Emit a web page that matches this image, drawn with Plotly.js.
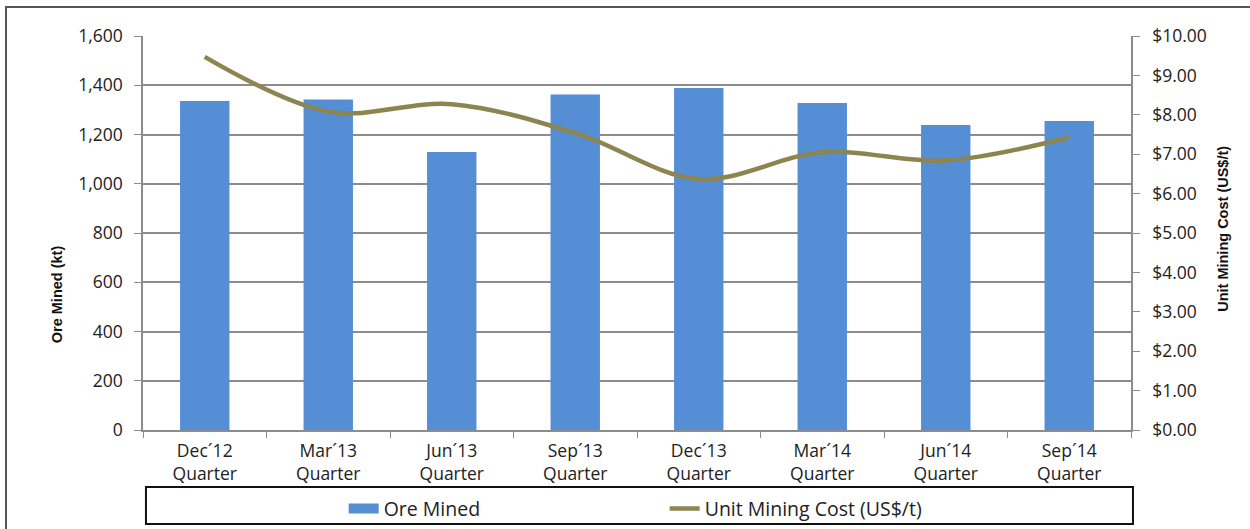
<!DOCTYPE html>
<html>
<head>
<meta charset="utf-8">
<script src="https://cdn.plot.ly/plotly-3.0.1.min.js"></script>
<style>
  html, body { margin: 0; padding: 0; background: #fff; }
  #frame { position: absolute; left: 5px; top: 6px; width: 1300px; height: 600px;
           border-left: 2px solid #555; border-top: 2px solid #555; }
  #chart { position: absolute; left: 0; top: 0; width: 1250px; height: 529px; }
</style>
</head>
<body>
<div id="frame"></div>
<div id="chart"></div>
<script>
const quarters = ["Dec´12<br>Quarter", "Mar´13<br>Quarter", "Jun´13<br>Quarter", "Sep´13<br>Quarter",
                  "Dec´13<br>Quarter", "Mar´14<br>Quarter", "Jun´14<br>Quarter", "Sep´14<br>Quarter"];
const oreMined = [1336, 1342, 1129, 1362, 1389, 1328, 1239, 1255];
const unitCost = [9.47, 8.08, 8.27, 7.54, 6.37, 7.05, 6.84, 7.43];

const barColor = "rgb(85,142,213)";
const lineColor = "rgb(140,133,80)";
const axisGrey = "#8c8c8c";
const tickFont = { family: "'Open Sans', Lato, sans-serif", size: 17.5, color: "#222" };
const legendFont = { family: "'Open Sans', Lato, sans-serif", size: 19.5, color: "#222" };
const titleFont = { family: "'Liberation Sans', Arial, sans-serif", size: 14.5, color: "#111" };

const traces = [
  {
    type: "bar",
    x: quarters,
    y: oreMined,
    marker: { color: barColor },
    showlegend: false,
    hoverinfo: "y",
  },
  {
    // legend entry for the bars, drawn as a wide swatch
    type: "scatter",
    mode: "lines",
    x: [null],
    y: [null],
    name: "Ore Mined",
    line: { color: barColor, width: 10 },
  },
  {
    type: "scatter",
    mode: "lines",
    x: quarters,
    y: unitCost,
    yaxis: "y2",
    name: "Unit Mining Cost (US$/t)",
    line: { color: lineColor, width: 4.5, shape: "spline", smoothing: 1 },
  },
];

const layout = {
  width: 1250,
  height: 529,
  margin: { l: 143, r: 119, t: 36, b: 99 },
  paper_bgcolor: "rgba(0,0,0,0)",
  plot_bgcolor: "rgba(0,0,0,0)",
  bargap: 0.6,
  font: tickFont,
  xaxis: {
    type: "category",
    tickson: "boundaries",
    ticks: "outside",
    ticklen: 6,
    tickcolor: axisGrey,
    ticklabelstandoff: 4,
    showline: true,
    linecolor: axisGrey,
    linewidth: 1.5,
    showgrid: false,
    tickfont: tickFont,
    automargin: false,
    fixedrange: true,
  },
  yaxis: {
    range: [0, 1600],
    dtick: 200,
    tickformat: ",",
    ticks: "outside",
    ticklen: 7,
    tickcolor: axisGrey,
    ticklabelstandoff: 8,
    showline: true,
    linecolor: axisGrey,
    linewidth: 1.5,
    gridcolor: axisGrey,
    gridwidth: 1.5,
    zeroline: false,
    tickfont: tickFont,
    automargin: false,
    fixedrange: true,
  },
  yaxis2: {
    overlaying: "y",
    side: "right",
    range: [0, 10],
    dtick: 1,
    tickprefix: "$",
    tickformat: ".2f",
    ticks: "outside",
    ticklen: 7,
    tickcolor: axisGrey,
    ticklabelstandoff: 9,
    showline: true,
    linecolor: axisGrey,
    linewidth: 1.5,
    showgrid: false,
    zeroline: false,
    tickfont: tickFont,
    automargin: false,
    fixedrange: true,
  },
  legend: {
    orientation: "h",
    x: 0.528,
    xanchor: "center",
    xref: "paper",
    y: 0.038,
    yref: "container",
    yanchor: "middle",
    entrywidth: 276,
    font: legendFont,
    bgcolor: "rgba(0,0,0,0)",
  },
  shapes: [
    {
      type: "rect", xref: "paper", yref: "paper",
      x0: 0.003, x1: 1.002, y0: -0.1447, y1: -0.2386,
      line: { color: "#111", width: 2 },
    },
  ],
  annotations: [
    {
      text: "<b>Ore Mined (kt)</b>", xref: "paper", yref: "paper",
      x: -0.097, y: 0.345, textangle: -90, showarrow: false,
      font: titleFont,
    },
    {
      text: "<b>Unit Mining Cost (US$/t)</b>", xref: "paper", yref: "paper",
      x: 1.103, y: 0.51, textangle: -90, showarrow: false,
      font: titleFont,
    },
  ],
};

Plotly.newPlot("chart", traces, layout, { displayModeBar: false });
</script>
</body>
</html>
